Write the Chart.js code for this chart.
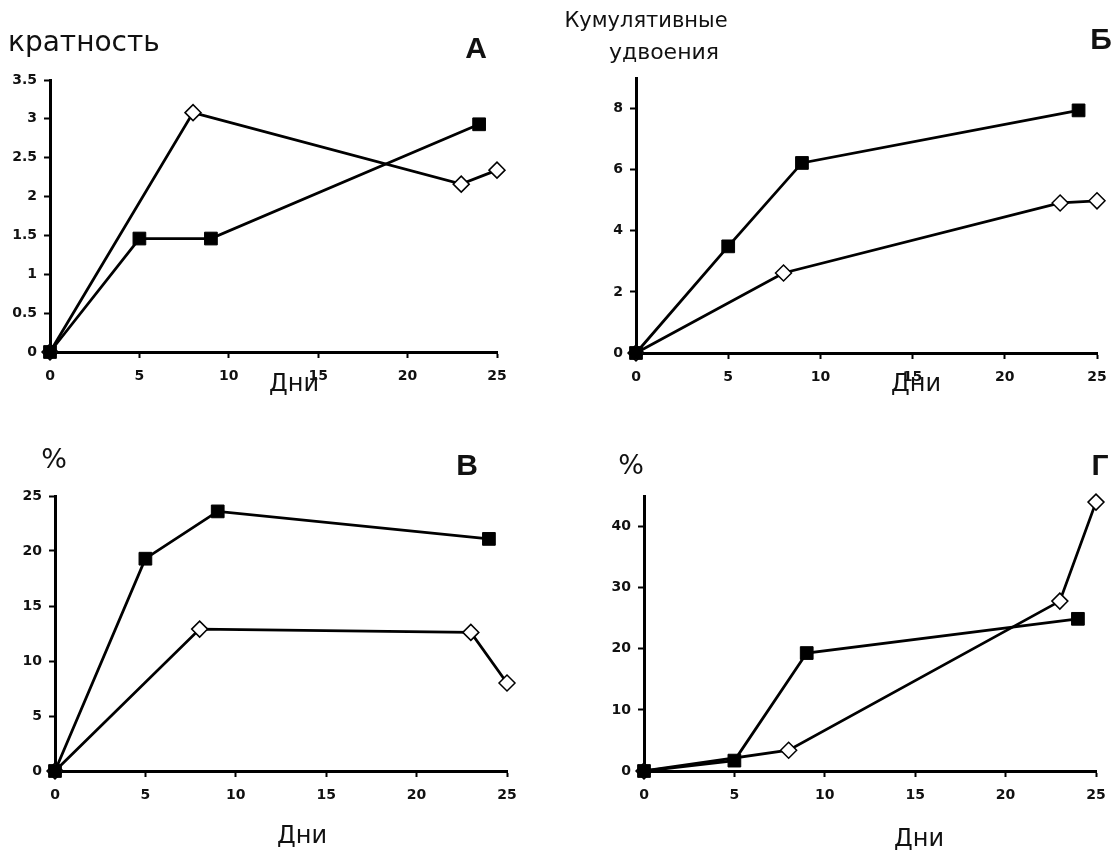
<!DOCTYPE html>
<html lang="ru">
<head>
<meta charset="utf-8">
<title>Дни</title>
<script src="https://cdn.jsdelivr.net/npm/chart.js@4.4.1/dist/chart.umd.min.js"></script>
<style>
  body { margin: 0; background: #fff; }
  #page { position: relative; width: 1117px; height: 854px; overflow: hidden; }
  canvas { position: absolute; }
  .lbl {
    position: absolute; white-space: nowrap; line-height: 1; color: #111;
    font-family: "DejaVu Sans", sans-serif; font-size: 24px;
    transform: translate(-50%, -50%);
  }
  .lbl.left { transform: translate(0, -50%); }
  .lbl.big { font-size: 28px; }
  .lbl.pct { font-size: 27px; }
  .lbl.small { font-size: 21px; }
  .letter { font-family: "Liberation Sans", Arial, sans-serif; font-weight: bold; font-size: 30px; }
</style>
</head>
<body>
<div id="page">
  <canvas id="chartA" width="558" height="427" style="left:0;top:0"></canvas>
  <canvas id="chartB" width="559" height="427" style="left:558px;top:0"></canvas>
  <canvas id="chartV" width="558" height="427" style="left:0;top:427px"></canvas>
  <canvas id="chartG" width="559" height="427" style="left:558px;top:427px"></canvas>

  <div class="lbl left big" style="left:8px;top:42px">кратность</div>
  <div class="lbl letter" style="left:476px;top:48px">А</div>
  <div class="lbl small" style="left:646px;top:20px">Кумулятивные</div>
  <div class="lbl small" style="left:664px;top:52px;font-size:22px">удвоения</div>
  <div class="lbl letter" style="left:1101px;top:39px">Б</div>
  <div class="lbl" style="left:294px;top:383px">Дни</div>
  <div class="lbl" style="left:916px;top:383px">Дни</div>

  <div class="lbl pct" style="left:54px;top:458px">%</div>
  <div class="lbl letter" style="left:467px;top:465px">В</div>
  <div class="lbl pct" style="left:631px;top:464px">%</div>
  <div class="lbl letter" style="left:1100px;top:465px">Г</div>
  <div class="lbl" style="left:302px;top:835px">Дни</div>
  <div class="lbl" style="left:919px;top:838px">Дни</div>
</div>
<script>
// days on which each group was measured
const squareDays = [0, 5, 9, 24];
const diamondDays = [0, 8, 23, 25];

// А: кратность
const foldSquares = [0, 1.46, 1.46, 2.93];
const foldDiamonds = [0, 3.08, 2.16, 2.34];

// Б: кумулятивные удвоения
const doublingSquares = [0, 3.49, 6.22, 7.94];
const doublingDiamonds = [0, 2.62, 4.91, 4.98];

// В: %
const percentVSquares = [0, 19.3, 23.6, 21.1];
const percentVDiamonds = [0, 12.9, 12.6, 8.0];

// Г: %
const percentGSquares = [0, 1.7, 19.3, 24.9];
const percentGDiamonds = [0, 3.4, 27.8, 44.0];

const Y_AXIS_W = 50;
const X_AXIS_H = 40;
const tickFont = { family: '"DejaVu Sans", sans-serif', size: 14, weight: 'bold' };

function points(xs, ys) {
  return xs.map((x, i) => ({ x: x, y: ys[i] }));
}

function makePanel(id, box, area, yMax, yStep, squares, diamonds) {
  const ctx = document.getElementById(id);
  new Chart(ctx, {
    type: 'line',
    data: {
      datasets: [{
        data: points(squareDays, squares),
        borderColor: '#000',
        borderWidth: 2.8,
        pointStyle: 'rect',
        pointRadius: 9,
        pointBackgroundColor: '#000',
        pointBorderColor: '#000',
        pointBorderWidth: 1,
        clip: false
      }, {
        data: points(diamondDays, diamonds),
        borderColor: '#000',
        borderWidth: 2.8,
        pointStyle: 'rectRot',
        pointRadius: 8,
        pointBackgroundColor: '#fff',
        pointBorderColor: '#000',
        pointBorderWidth: 1.5,
        clip: false
      }]
    },
    options: {
      responsive: false,
      animation: false,
      events: [],
      layout: {
        padding: {
          left: area.l - box.x - Y_AXIS_W,
          right: box.x + box.w - area.r,
          top: area.t - box.y,
          bottom: box.y + box.h - area.b - X_AXIS_H
        }
      },
      plugins: { legend: { display: false }, tooltip: { enabled: false } },
      scales: {
        x: {
          type: 'linear',
          min: 0, max: 25,
          afterFit: s => { s.height = X_AXIS_H; },
          border: { display: true, color: '#000', width: 3 },
          grid: { drawOnChartArea: false, tickLength: 6, tickWidth: 2, tickColor: '#000' },
          ticks: { stepSize: 5, padding: 10, color: '#111', font: tickFont, maxRotation: 0 }
        },
        y: {
          min: 0, max: yMax,
          afterFit: s => { s.width = Y_AXIS_W; },
          border: { display: true, color: '#000', width: 3 },
          grid: { drawOnChartArea: false, tickLength: 6, tickWidth: 2, tickColor: '#000' },
          ticks: { stepSize: yStep, includeBounds: false, padding: 7, color: '#111', font: tickFont,
                   callback: v => String(v) }
        }
      }
    }
  });
}

makePanel('chartA', { x: 0, y: 0, w: 558, h: 427 }, { l: 50, r: 497, t: 80, b: 352 }, 3.5, 0.5, foldSquares, foldDiamonds);
makePanel('chartB', { x: 558, y: 0, w: 559, h: 427 }, { l: 636, r: 1097, t: 78, b: 353 }, 9, 2, doublingSquares, doublingDiamonds);
makePanel('chartV', { x: 0, y: 427, w: 558, h: 427 }, { l: 55, r: 507, t: 496, b: 771 }, 25, 5, percentVSquares, percentVDiamonds);
makePanel('chartG', { x: 558, y: 427, w: 559, h: 427 }, { l: 644, r: 1096, t: 496, b: 771 }, 45, 10, percentGSquares, percentGDiamonds);
</script>
</body>
</html>
